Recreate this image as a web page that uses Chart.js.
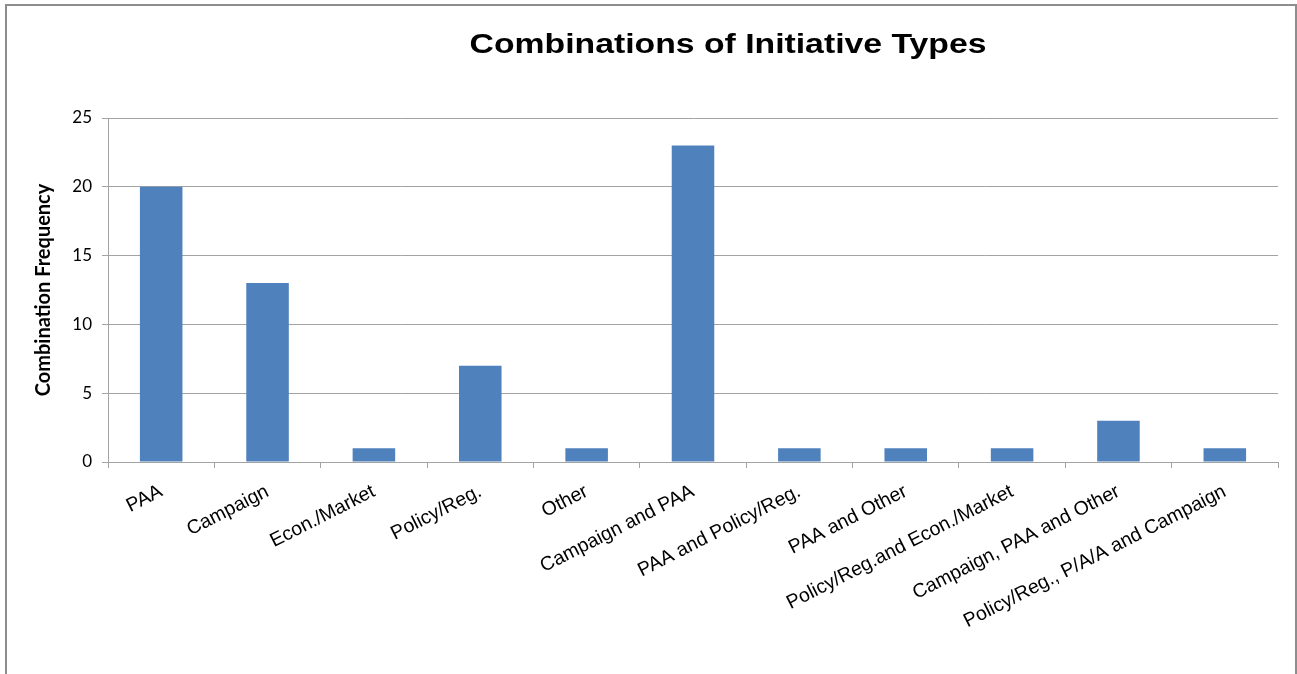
<!DOCTYPE html>
<html>
<head>
<meta charset="utf-8">
<title>Combinations of Initiative Types</title>
<script src="https://cdn.jsdelivr.net/npm/chart.js@4.4.1/dist/chart.umd.min.js"></script>
<style>
  html, body { margin: 0; padding: 0; background: #fff; }
  #frame {
    position: absolute; left: 5px; top: 4px; width: 1292px; height: 700px;
    border: 2px solid #8d8d8d; box-sizing: border-box;
  }
  #chart { position: absolute; left: 0; top: 0; }
</style>
</head>
<body>
<div id="frame"></div>
<canvas id="chart" width="1297" height="674"></canvas>
<script>
// Initiative combinations and how often each occurred
const categories = [
  'PAA',
  'Campaign',
  'Econ./Market',
  'Policy/Reg.',
  'Other',
  'Campaign and PAA',
  'PAA and Policy/Reg.',
  'PAA and Other',
  'Policy/Reg.and Econ./Market',
  'Campaign, PAA and Other',
  'Policy/Reg., P/A/A and Campaign'
];
const frequencies = [20, 13, 1, 7, 1, 23, 1, 1, 1, 3, 1];
const yTicks = [0, 5, 10, 15, 20, 25];

const chartTitle = 'Combinations of Initiative Types';
const barColor = '#4f81bd';
const gridColor = '#a3a3a3';

// Title sits over the plot a bit right of center, drawn wide like the source sheet
const titlePlugin = {
  id: 'titleText',
  afterDraw(chart) {
    const ctx = chart.ctx;
    ctx.save();
    ctx.translate(728, 53);
    ctx.scale(1.25, 1);
    ctx.font = 'bold 27px "Liberation Sans", Arial, sans-serif';
    ctx.fillStyle = '#000';
    ctx.textAlign = 'center';
    ctx.textBaseline = 'alphabetic';
    ctx.fillText(chartTitle, 0, 0);
    ctx.restore();
  }
};

const ctx = document.getElementById('chart').getContext('2d');
new Chart(ctx, {
  type: 'bar',
  data: {
    labels: categories,
    datasets: [{
      label: 'Combination Frequency',
      data: frequencies,
      backgroundColor: barColor,
      borderWidth: 0,
      barPercentage: 0.4,
      categoryPercentage: 1.0
    }]
  },
  options: {
    responsive: false,
    animation: false,
    layout: { padding: { top: 118, right: 19, left: 0, bottom: 0 } },
    plugins: {
      legend: { display: false },
      tooltip: { enabled: false }
    },
    scales: {
      x: {
        grid: {
          offset: true,
          drawOnChartArea: false,
          drawTicks: true,
          tickLength: 6,
          color: gridColor
        },
        border: { color: gridColor },
        ticks: {
          minRotation: 27,
          maxRotation: 27,
          autoSkip: false,
          padding: 12,
          color: '#000',
          font: { family: '"Liberation Sans", Arial, sans-serif', size: 19.5 }
        },
        afterFit(scale) { scale.height = 212; }
      },
      y: {
        min: 0,
        max: 25,
        afterBuildTicks(scale) { scale.ticks = yTicks.map(v => ({ value: v })); },
        grid: { color: gridColor, tickLength: 6 },
        border: { color: gridColor },
        ticks: {
          padding: 10,
          color: '#000',
          font: { family: 'Lato, "Open Sans", sans-serif', size: 17 }
        },
        title: {
          display: true,
          text: 'Combination Frequency',
          color: '#000',
          padding: { top: 32, bottom: 0 },
          font: { family: 'Lato, "Open Sans", sans-serif', size: 20, weight: 'bold' }
        },
        afterFit(scale) { scale.width = 108; }
      }
    }
  },
  plugins: [titlePlugin]
});
</script>
</body>
</html>
